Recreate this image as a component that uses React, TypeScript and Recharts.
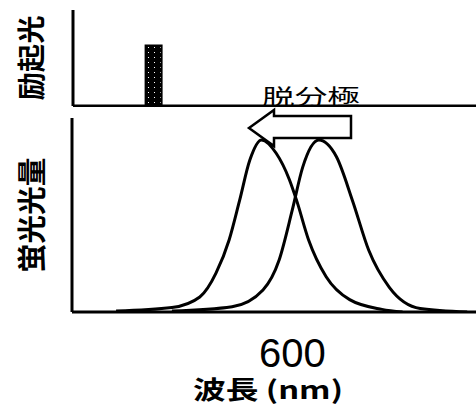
import React from "react";
import {
  BarChart,
  Bar,
  LineChart,
  Line,
  XAxis,
  YAxis,
} from "recharts";

// --- excitation light (top panel) ---
const excitation = [{ nm: 505, level: 63 }];

// --- fluorescence spectra (bottom panel), wavelength nm / relative intensity ---
const beforeShift = [
  { nm: 480, v: 0.5 },
  { nm: 518, v: 2.5 },
  { nm: 537, v: 8.5 },
  { nm: 548, v: 22 },
  { nm: 557, v: 41 },
  { nm: 564, v: 63 },
  { nm: 571, v: 86 },
  { nm: 579, v: 97.5 },
  { nm: 589, v: 90 },
  { nm: 598, v: 75 },
  { nm: 603, v: 63 },
  { nm: 611, v: 41 },
  { nm: 623, v: 20 },
  { nm: 639, v: 7 },
  { nm: 661, v: 1.5 },
  { nm: 675, v: 0 },
];

const afterShift = [
  { nm: 518, v: 0.5 },
  { nm: 559, v: 3 },
  { nm: 580, v: 12.5 },
  { nm: 591, v: 29.5 },
  { nm: 600, v: 58 },
  { nm: 607, v: 82 },
  { nm: 618, v: 97.5 },
  { nm: 630, v: 88 },
  { nm: 641, v: 63 },
  { nm: 652, v: 35 },
  { nm: 666, v: 14 },
  { nm: 687, v: 2 },
  { nm: 719, v: 0 },
];

const xTicks = [600];
const xDomain = [450, 725];

const jpFont = "'Noto Sans CJK JP', sans-serif";

const VerticalLabel = ({ viewBox, text, len, size }: any) => {
  const cy = viewBox.y + viewBox.height / 2;
  return (
    <text
      x={30}
      y={cy}
      transform={`rotate(-90 30 ${cy})`}
      textAnchor="middle"
      dominantBaseline="central"
      fontFamily={jpFont}
      fontWeight="bold"
      fontSize={size}
      textLength={len}
      lengthAdjust="spacingAndGlyphs"
      fill="#000"
    >
      {text}
    </text>
  );
};

const TickLabel = (props: any) => (
  <text
    x={props.x}
    y={props.y + 47}
    textAnchor="middle"
    fontFamily="'Liberation Sans', Arial, sans-serif"
    fontSize={40}
    fill="#000"
  >
    {props.payload.value}
  </text>
);

export default function App() {
  return (
    <div
      style={{
        position: "absolute",
        left: 0,
        top: 0,
        width: 476,
        height: 405,
        overflow: "hidden",
        background: "#fff",
      }}
    >
      <BarChart
        width={476}
        height={107}
        data={excitation}
        margin={{ top: 10, right: 0, left: 0, bottom: 0 }}
      >
        <XAxis
          type="number"
          dataKey="nm"
          domain={xDomain}
          allowDataOverflow
          tick={false}
          tickLine={false}
          height={1}
          axisLine={{ stroke: "#000", strokeWidth: 3 }}
        />
        <YAxis
          domain={[0, 100]}
          tick={false}
          tickLine={false}
          width={73}
          axisLine={{ stroke: "#000", strokeWidth: 3 }}
          label={(p: any) => (
            <VerticalLabel viewBox={p.viewBox} text="励起光" len={85} size={28} />
          )}
        />
        <Bar
          dataKey="level"
          barSize={16}
          fill="url(#speckle)"
          stroke="#000"
          strokeWidth={2}
          isAnimationActive={false}
        />
      </BarChart>

      <LineChart
        width={476}
        height={298}
        margin={{ top: 11, right: 0, left: 0, bottom: 0 }}
      >
        <XAxis
          type="number"
          dataKey="nm"
          domain={xDomain}
          allowDataOverflow
          ticks={xTicks}
          tickLine={false}
          tick={TickLabel}
          height={93}
          axisLine={{ stroke: "#000", strokeWidth: 3 }}
          label={(p: any) => (
            <text
              x={268}
              y={p.viewBox.y + 87}
              textAnchor="middle"
              fontFamily={jpFont}
              fontWeight="bold"
              fontSize={25}
              textLength={150}
              lengthAdjust="spacingAndGlyphs"
              fill="#000"
            >
              波長 (nm)
            </text>
          )}
        />
        <YAxis
          type="number"
          domain={[0, 110]}
          allowDataOverflow
          tick={false}
          tickLine={false}
          width={72}
          axisLine={{ stroke: "#000", strokeWidth: 3 }}
          label={(p: any) => (
            <VerticalLabel viewBox={p.viewBox} text="蛍光光量" len={115} size={29} />
          )}
        />
        <Line
          data={beforeShift}
          dataKey="v"
          type="monotone"
          stroke="#000"
          strokeWidth={3}
          dot={false}
          isAnimationActive={false}
        />
        <Line
          data={afterShift}
          dataKey="v"
          type="monotone"
          stroke="#000"
          strokeWidth={3}
          dot={false}
          isAnimationActive={false}
        />
      </LineChart>

      {/* annotation: depolarization shift arrow */}
      <svg
        width={476}
        height={405}
        style={{ position: "absolute", left: 0, top: 0, pointerEvents: "none" }}
      >
        <defs>
          <pattern id="speckle" width="6" height="5" patternUnits="userSpaceOnUse">
            <rect width="6" height="5" fill="#000" />
            <rect x="4" y="2" width="1" height="1" fill="#fff" />
          </pattern>
        </defs>
        <text
          x={311}
          y={104}
          textAnchor="middle"
          fontFamily={jpFont}
          fontSize={21}
          textLength={98}
          lengthAdjust="spacingAndGlyphs"
          fill="#000"
        >
          脱分極
        </text>
        <polygon
          points="249,128 274,110 274,116 351,116 351,138 274,138 274,146"
          fill="#fff"
          stroke="#000"
          strokeWidth={2.5}
          strokeLinejoin="miter"
        />
      </svg>
    </div>
  );
}
